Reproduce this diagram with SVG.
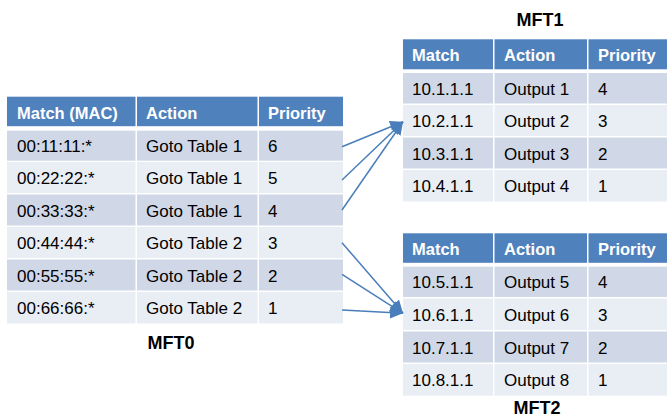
<svg xmlns="http://www.w3.org/2000/svg" width="667" height="418" viewBox="0 0 667 418">
<style>
text{font-family:"Liberation Sans",Arial,sans-serif;}
.h{fill:#4F81BD;}
.o{fill:#D0D8E8;}
.e{fill:#E9EDF4;}
.ht{fill:#FFFFFF;font-weight:bold;font-size:16.5px;}
.bt{fill:#000000;font-size:17px;}
.tt{fill:#000000;font-weight:bold;font-size:18px;text-anchor:middle;}
.c{stroke:#4A7EBB;stroke-width:1.5;fill:none;}
</style>
<defs>
<marker id="arr" markerUnits="userSpaceOnUse" markerWidth="14" markerHeight="12" refX="13" refY="6" orient="auto">
<path d="M0,0 L13,6 L0,12 Z" fill="#4A7EBB"/>
</marker>
</defs>
<rect width="667" height="418" fill="#FFFFFF"/>

<g id="mft0">
<rect class="h" x="7" y="96.7" width="128.5" height="29.5"/>
<rect class="h" x="137" y="96.7" width="120.5" height="29.5"/>
<rect class="h" x="259" y="96.7" width="84" height="29.5"/>
<text class="ht" x="17" y="119.3">Match (MAC)</text>
<text class="ht" x="146" y="119.3">Action</text>
<text class="ht" x="268" y="119.3">Priority</text>

<rect class="o" x="7" y="130.7" width="128.5" height="30"/>
<rect class="o" x="137" y="130.7" width="120.5" height="30"/>
<rect class="o" x="259" y="130.7" width="84" height="30"/>
<text class="bt" x="17" y="152">00:11:11:*</text>
<text class="bt" x="146" y="152">Goto Table 1</text>
<text class="bt" x="268" y="152">6</text>

<rect class="e" x="7" y="162" width="128.5" height="31"/>
<rect class="e" x="137" y="162" width="120.5" height="31"/>
<rect class="e" x="259" y="162" width="84" height="31"/>
<text class="bt" x="17" y="184">00:22:22:*</text>
<text class="bt" x="146" y="184">Goto Table 1</text>
<text class="bt" x="268" y="184">5</text>

<rect class="o" x="7" y="194.5" width="128.5" height="31"/>
<rect class="o" x="137" y="194.5" width="120.5" height="31"/>
<rect class="o" x="259" y="194.5" width="84" height="31"/>
<text class="bt" x="17" y="216.5">00:33:33:*</text>
<text class="bt" x="146" y="216.5">Goto Table 1</text>
<text class="bt" x="268" y="216.5">4</text>

<rect class="e" x="7" y="227" width="128.5" height="31"/>
<rect class="e" x="137" y="227" width="120.5" height="31"/>
<rect class="e" x="259" y="227" width="84" height="31"/>
<text class="bt" x="17" y="249">00:44:44:*</text>
<text class="bt" x="146" y="249">Goto Table 2</text>
<text class="bt" x="268" y="249">3</text>

<rect class="o" x="7" y="259.5" width="128.5" height="31"/>
<rect class="o" x="137" y="259.5" width="120.5" height="31"/>
<rect class="o" x="259" y="259.5" width="84" height="31"/>
<text class="bt" x="17" y="281.5">00:55:55:*</text>
<text class="bt" x="146" y="281.5">Goto Table 2</text>
<text class="bt" x="268" y="281.5">2</text>

<rect class="e" x="7" y="292" width="128.5" height="31.5"/>
<rect class="e" x="137" y="292" width="120.5" height="31.5"/>
<rect class="e" x="259" y="292" width="84" height="31.5"/>
<text class="bt" x="17" y="314">00:66:66:*</text>
<text class="bt" x="146" y="314">Goto Table 2</text>
<text class="bt" x="268" y="314">1</text>

<text class="tt" x="171" y="349.3">MFT0</text>
</g>

<g id="mft1">
<text class="tt" x="540" y="26">MFT1</text>
<rect class="h" x="403" y="39.3" width="90" height="30"/>
<rect class="h" x="494.5" y="39.3" width="92.5" height="30"/>
<rect class="h" x="588.5" y="39.3" width="78.5" height="30"/>
<text class="ht" x="412" y="61">Match</text>
<text class="ht" x="504" y="61">Action</text>
<text class="ht" x="598" y="61">Priority</text>

<rect class="o" x="403" y="73" width="90" height="30.5"/>
<rect class="o" x="494.5" y="73" width="92.5" height="30.5"/>
<rect class="o" x="588.5" y="73" width="78.5" height="30.5"/>
<text class="bt" x="412" y="94.5">10.1.1.1</text>
<text class="bt" x="504" y="94.5">Output 1</text>
<text class="bt" x="598" y="94.5">4</text>

<rect class="e" x="403" y="105" width="90" height="31"/>
<rect class="e" x="494.5" y="105" width="92.5" height="31"/>
<rect class="e" x="588.5" y="105" width="78.5" height="31"/>
<text class="bt" x="412" y="127">10.2.1.1</text>
<text class="bt" x="504" y="127">Output 2</text>
<text class="bt" x="598" y="127">3</text>

<rect class="o" x="403" y="137.5" width="90" height="31"/>
<rect class="o" x="494.5" y="137.5" width="92.5" height="31"/>
<rect class="o" x="588.5" y="137.5" width="78.5" height="31"/>
<text class="bt" x="412" y="159.5">10.3.1.1</text>
<text class="bt" x="504" y="159.5">Output 3</text>
<text class="bt" x="598" y="159.5">2</text>

<rect class="e" x="403" y="170" width="90" height="31.5"/>
<rect class="e" x="494.5" y="170" width="92.5" height="31.5"/>
<rect class="e" x="588.5" y="170" width="78.5" height="31.5"/>
<text class="bt" x="412" y="192">10.4.1.1</text>
<text class="bt" x="504" y="192">Output 4</text>
<text class="bt" x="598" y="192">1</text>
</g>

<g id="mft2">
<rect class="h" x="403" y="233.3" width="90" height="29.5"/>
<rect class="h" x="494.5" y="233.3" width="92.5" height="29.5"/>
<rect class="h" x="588.5" y="233.3" width="78.5" height="29.5"/>
<text class="ht" x="412" y="255">Match</text>
<text class="ht" x="504" y="255">Action</text>
<text class="ht" x="598" y="255">Priority</text>

<rect class="o" x="403" y="266.7" width="90" height="30.3"/>
<rect class="o" x="494.5" y="266.7" width="92.5" height="30.3"/>
<rect class="o" x="588.5" y="266.7" width="78.5" height="30.3"/>
<text class="bt" x="412" y="288.3">10.5.1.1</text>
<text class="bt" x="504" y="288.3">Output 5</text>
<text class="bt" x="598" y="288.3">4</text>

<rect class="e" x="403" y="298.5" width="90" height="31.5"/>
<rect class="e" x="494.5" y="298.5" width="92.5" height="31.5"/>
<rect class="e" x="588.5" y="298.5" width="78.5" height="31.5"/>
<text class="bt" x="412" y="320.5">10.6.1.1</text>
<text class="bt" x="504" y="320.5">Output 6</text>
<text class="bt" x="598" y="320.5">3</text>

<rect class="o" x="403" y="331.5" width="90" height="31"/>
<rect class="o" x="494.5" y="331.5" width="92.5" height="31"/>
<rect class="o" x="588.5" y="331.5" width="78.5" height="31"/>
<text class="bt" x="412" y="353.5">10.7.1.1</text>
<text class="bt" x="504" y="353.5">Output 7</text>
<text class="bt" x="598" y="353.5">2</text>

<rect class="e" x="403" y="364" width="90" height="31.7"/>
<rect class="e" x="494.5" y="364" width="92.5" height="31.7"/>
<rect class="e" x="588.5" y="364" width="78.5" height="31.7"/>
<text class="bt" x="412" y="386">10.8.1.1</text>
<text class="bt" x="504" y="386">Output 8</text>
<text class="bt" x="598" y="386">1</text>

<text class="tt" x="537" y="414">MFT2</text>
</g>

<g id="connectors">
<line class="c" x1="342" y1="146.7" x2="403" y2="121.7" marker-end="url(#arr)"/>
<line class="c" x1="342" y1="180" x2="403" y2="121.7" marker-end="url(#arr)"/>
<line class="c" x1="342" y1="210" x2="403" y2="121.7" marker-end="url(#arr)"/>
<line class="c" x1="342" y1="242.7" x2="403" y2="313.3" marker-end="url(#arr)"/>
<line class="c" x1="342" y1="274.3" x2="403" y2="313.3" marker-end="url(#arr)"/>
<line class="c" x1="342" y1="310" x2="403" y2="313.3" marker-end="url(#arr)"/>
</g>
</svg>
